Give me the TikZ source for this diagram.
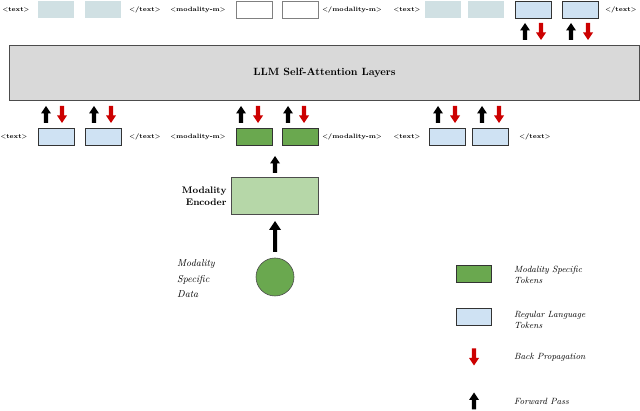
\documentclass[tikz,border=0pt]{standalone}
\usepackage{fontspec}
\setmainfont{Latin Modern Roman}
\definecolor{tokblue}{HTML}{CFE2F3}
\definecolor{tokgreen}{HTML}{6AA84F}
\definecolor{encgreen}{HTML}{B6D7A8}
\definecolor{ghostc}{HTML}{D0E0E3}
\begin{document}
\begin{tikzpicture}[x=1pt,y=-1pt,
 tag/.style={font=\fontsize{6.3}{7}\selectfont\bfseries, inner sep=0pt},
 tok/.style={draw=black!80, line width=0.8pt, fill=tokblue, minimum width=36pt, minimum height=17pt, inner sep=0pt},
 ghost/.style={fill=ghostc, minimum width=36pt, minimum height=17pt, inner sep=0pt},
 wtok/.style={draw=gray, line width=0.6pt, fill=white, minimum width=36pt, minimum height=17pt, inner sep=0pt},
 gtok/.style={draw=black!80, line width=0.8pt, fill=tokgreen, minimum width=36pt, minimum height=17pt, inner sep=0pt},
 ita/.style={font=\fontsize{9}{11}\selectfont\itshape, align=left, inner sep=0pt},
 up/.pic={\fill[black] (-2.2,8.5) -- (-2.2,-1) -- (-5,-1) -- (0,-8.5) -- (5,-1) -- (2.2,-1) -- (2.2,8.5) -- cycle;},
 down/.pic={\fill[red!80!black] (-2.2,-8.5) -- (-2.2,1) -- (-5,1) -- (0,8.5) -- (5,1) -- (2.2,1) -- (2.2,-8.5) -- cycle;}
]
\useasboundingbox (0,0) rectangle (640,411);
% top row
\node[tag] (t1) at (16,9.5) {<text>};
\node[ghost] (a1) at (56,9.5) {};
\node[ghost] (a2) at (103,9.5) {};
\node[tag] (t2) at (145,9.5) {</text>};
\node[tag] (t3) at (198,9.5) {<modality-m>};
\node[wtok] (a3) at (254,9.5) {};
\node[wtok] (a4) at (300,9.5) {};
\node[tag] (t4) at (352,9.5) {</modality-m>};
\node[tag] (t5) at (407,9.5) {<text>};
\node[ghost] (a5) at (443,9.5) {};
\node[ghost] (a6) at (486,9.5) {};
\node[tok] (a7) at (533,9.5) {};
\node[tok] (a8) at (580,9.5) {};
\node[tag] (t6) at (621,9.5) {</text>};
\foreach \x in {525,571} \pic at (\x,31.5) {up};
\foreach \x in {541,588} \pic at (\x,31.5) {down};
% LLM
\node[draw=black!70, fill=gray!30, line width=0.6pt, minimum width=630pt, minimum height=55pt, font=\fontsize{10.5}{12}\selectfont\bfseries] (llm) at (324.5,72.5) {LLM Self-Attention Layers};
% bottom row
\foreach \x in {46,94,241,288,438,482} \pic at (\x,114.5) {up};
\foreach \x in {62,111,258,304,455,499} \pic at (\x,114.5) {down};
\node[tag] (b1) at (14,136.5) {<text>};
\node[tok] (c1) at (56,136.5) {};
\node[tok] (c2) at (103,136.5) {};
\node[tag] (b2) at (145,136.5) {</text>};
\node[tag] (b3) at (198,136.5) {<modality-m>};
\node[gtok] (c3) at (254,136.5) {};
\node[gtok] (c4) at (300,136.5) {};
\node[tag] (b4) at (352,136.5) {</modality-m>};
\node[tag] (b5) at (407,136.5) {<text>};
\node[tok] (c5) at (447,136.5) {};
\node[tok] (c6) at (490,136.5) {};
\node[tag] (b6) at (535,136.5) {</text>};
% encoder
\node[draw=black!70, line width=0.6pt, fill=encgreen, minimum width=87pt, minimum height=37pt] (enc) at (274.5,195.5) {};
\node[font=\fontsize{9.5}{12}\selectfont\bfseries, align=right, anchor=east] (enclab) at (230,196) {Modality\\Encoder};
\pic at (275,164.5) {up};
\fill (273,252) -- (273,230) -- (269,230) -- (275,221) -- (281,230) -- (277,230) -- (277,252) -- cycle;
\node[circle, draw=black!70, line width=0.6pt, fill=tokgreen, minimum size=38pt, inner sep=0pt] (data) at (275,277) {};
\node[font=\fontsize{10}{15.5}\selectfont\itshape, align=left, inner sep=0pt, anchor=west] (datalab) at (177,279) {Modality\\Specific\\Data};
% legend
\node[gtok, minimum width=35pt, minimum height=17pt] (lg) at (473.5,273.5) {};
\node[ita, anchor=west] (lgt) at (514,275) {Modality Specific\\Tokens};
\node[tok, minimum width=35pt, minimum height=17pt] (lb) at (473.5,316.5) {};
\node[ita, anchor=west] (lbx) at (514,320) {Regular Language\\Tokens};
\pic at (474,357) {down};
\node[ita, anchor=west] (bp) at (514,357) {Back Propagation};
\pic at (474,401) {up};
\node[ita, anchor=west] (fp) at (514,401) {Forward Pass};
\end{tikzpicture}
\end{document}
